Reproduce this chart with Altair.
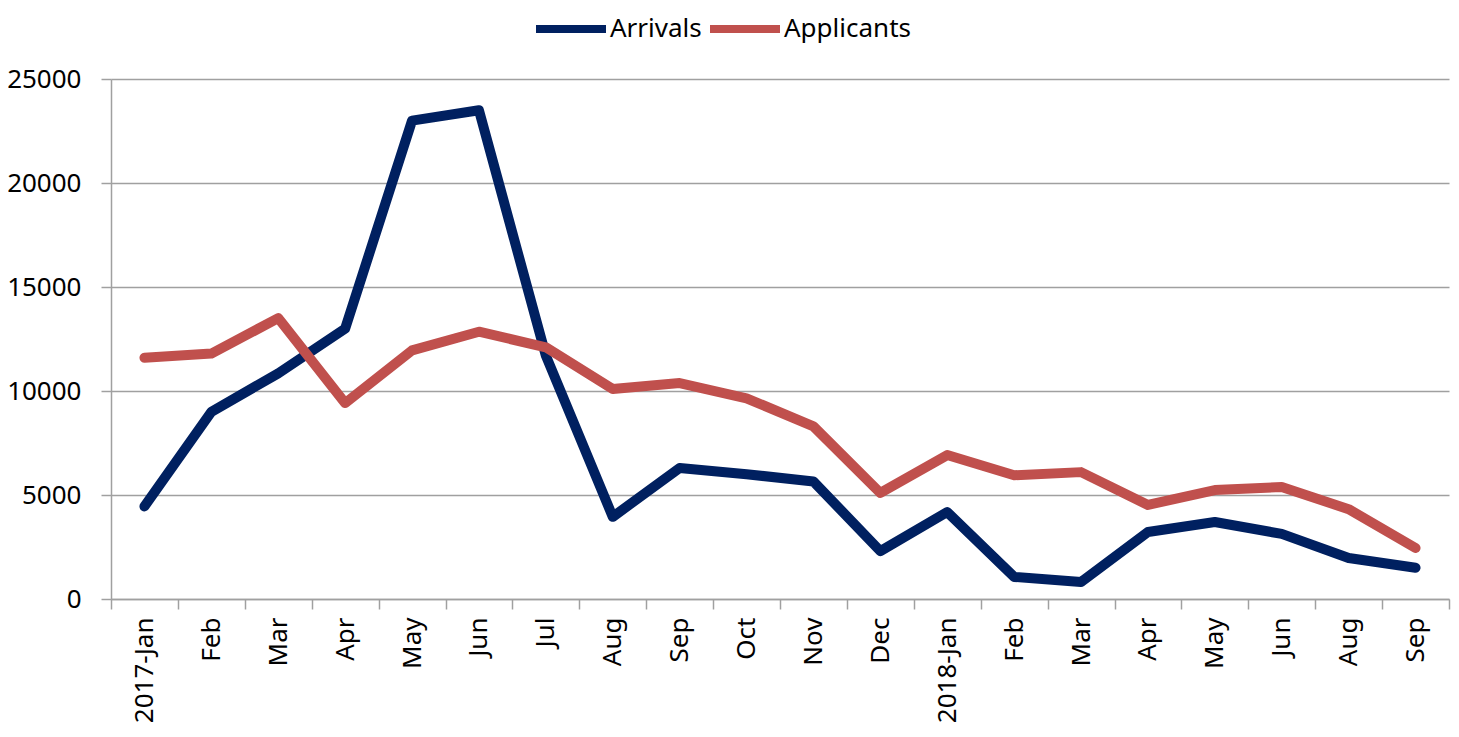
import json
import altair as alt
import pandas as pd

labels = ["2017-Jan", "Feb", "Mar", "Apr", "May", "Jun", "Jul", "Aug", "Sep", "Oct",
          "Nov", "Dec", "2018-Jan", "Feb", "Mar", "Apr", "May", "Jun", "Aug", "Sep"]
arrivals = [4450, 9000, 10850, 13000, 23000, 23500, 11700, 3950, 6300, 6000,
            5650, 2300, 4180, 1060, 820, 3220, 3700, 3130, 1970, 1500]
applicants = [11600, 11800, 13500, 9420, 11950, 12850, 12100, 10100, 10380, 9650,
              8300, 5100, 6920, 5950, 6100, 4520, 5240, 5380, 4320, 2450]
series = ["Arrivals", "Applicants"]
colors = ["#002060", "#C0504D"]

rows = []
for i, lab in enumerate(labels):
    rows.append({"idx": i, "series": "Arrivals", "value": arrivals[i]})
    rows.append({"idx": i, "series": "Applicants", "value": applicants[i]})
df = pd.DataFrame(rows)

label_expr = json.dumps(labels) + "[datum.value]"
FONT = "Noto Sans"

chart = alt.Chart(df).mark_line(strokeWidth=10, strokeCap="round", strokeJoin="round").encode(
    x=alt.X("idx:O", bandPosition=0.5,
            scale=alt.Scale(type="band", paddingInner=0, paddingOuter=0),
            axis=alt.Axis(title=None, labelExpr=label_expr, labelAngle=-90,
                          tickBand="extent", tickSize=10, labelPadding=8,
                          domainColor="#A0A0A0", tickColor="#A0A0A0",
                          domainWidth=1.5, tickWidth=1.5, grid=False)),
    y=alt.Y("value:Q", scale=alt.Scale(domain=[0, 25000], nice=False),
            axis=alt.Axis(title=None, values=[0, 5000, 10000, 15000, 20000, 25000],
                          format="d", tickSize=10, labelPadding=20,
                          domainColor="#A0A0A0", tickColor="#A0A0A0",
                          gridColor="#A0A0A0", gridWidth=1.5,
                          domainWidth=1.5, tickWidth=1.5)),
    color=alt.Color("series:N", sort=series,
                    scale=alt.Scale(domain=series, range=colors),
                    legend=alt.Legend(title=None, orient="none", direction="horizontal",
                                      legendX=421, legendY=-89,
                                      symbolType="stroke", symbolSize=4900,
                                      symbolStrokeWidth=8, labelOffset=0,
                                      columnPadding=-8)),
    detail="series:N",
).properties(
    width=1338, height=520,
    padding={"left": 103, "top": 71, "right": 2, "bottom": 128},
    autosize=alt.AutoSizeParams(type="none"),
).configure_view(strokeWidth=0).configure_axis(
    labelFont=FONT, labelFontSize=26, labelColor="#000000"
).configure_legend(labelFont=FONT, labelFontSize=26, labelColor="#000000")

chart.save("out.html", embed_options={"renderer": "svg", "actions": False})
